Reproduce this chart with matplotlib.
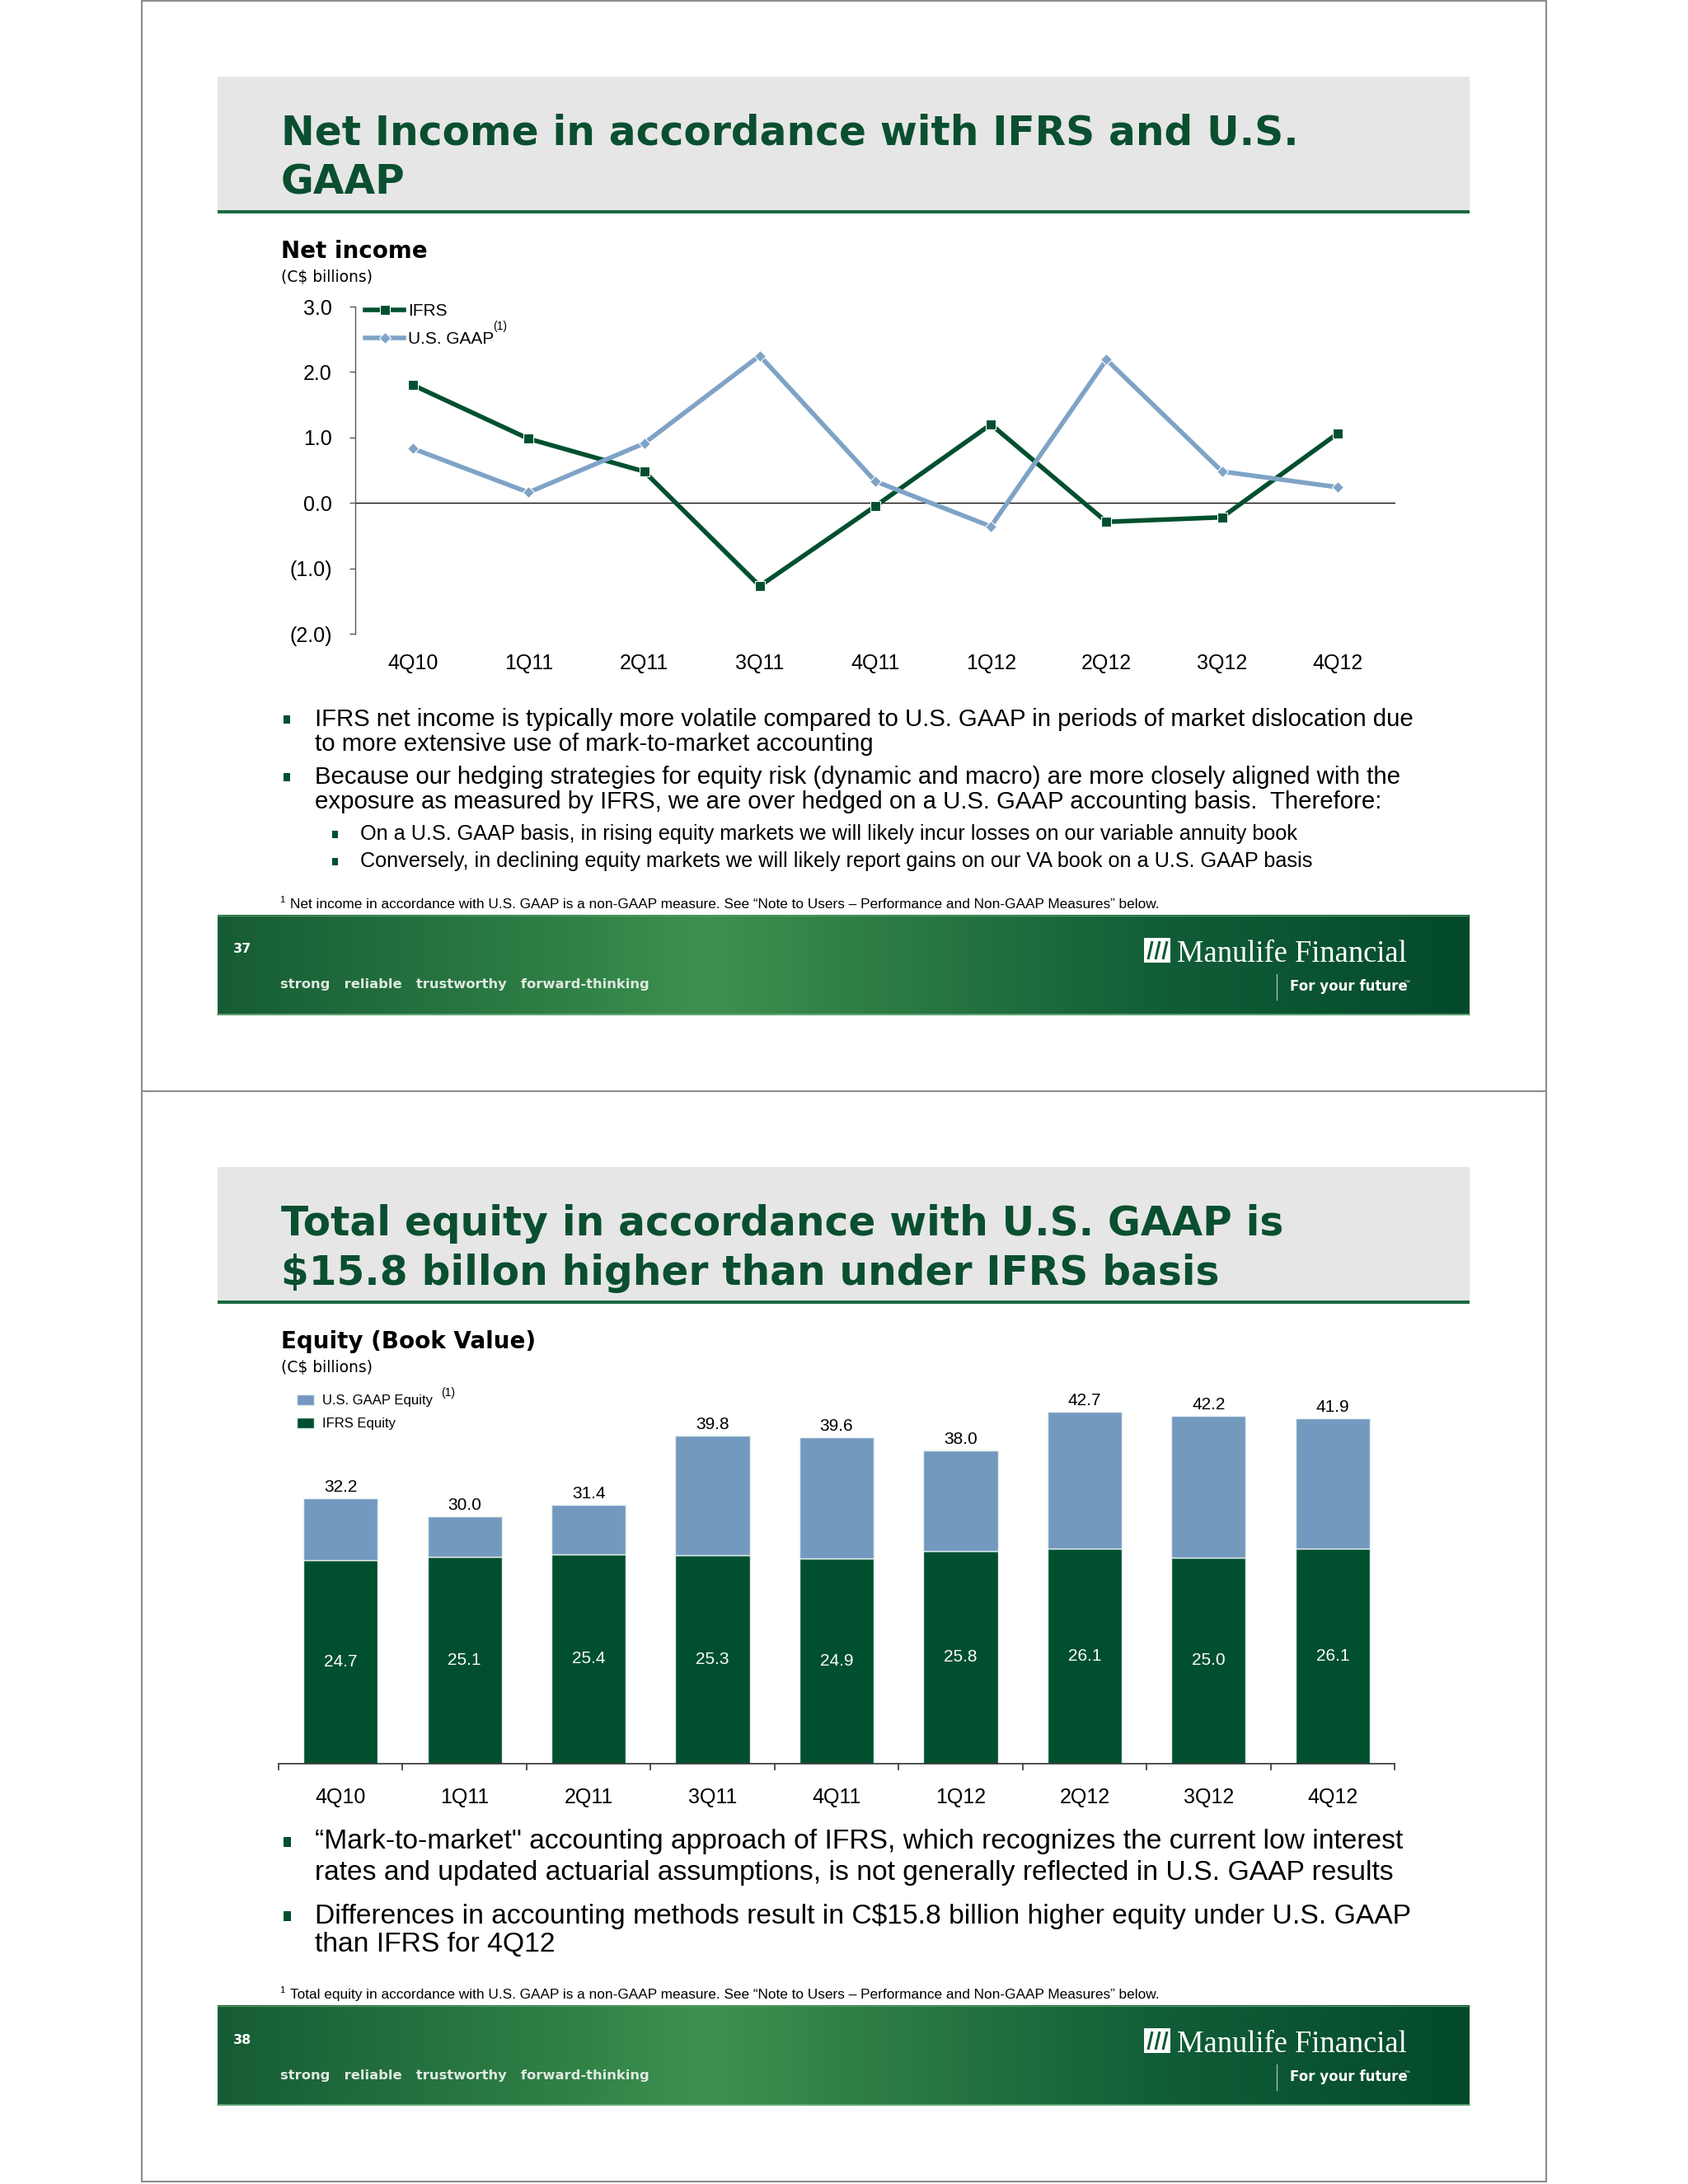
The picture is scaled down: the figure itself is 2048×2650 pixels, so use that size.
import numpy as np
import matplotlib.pyplot as plt
from matplotlib.patches import Rectangle
from matplotlib.colors import LinearSegmentedColormap
from matplotlib import font_manager

W, H = 2048, 2650

# ---- data ----
quarters = ['4Q10', '1Q11', '2Q11', '3Q11', '4Q11', '1Q12', '2Q12', '3Q12', '4Q12']
ifrs_income = [1.80, 0.98, 0.48, -1.27, -0.05, 1.20, -0.29, -0.22, 1.06]
gaap_income = [0.83, 0.16, 0.91, 2.25, 0.33, -0.36, 2.19, 0.48, 0.24]
income_ticks = [-2, -1, 0, 1, 2, 3]
income_tick_labels = ['(2.0)', '(1.0)', '0.0', '1.0', '2.0', '3.0']

ifrs_equity = [24.7, 25.1, 25.4, 25.3, 24.9, 25.8, 26.1, 25.0, 26.1]
gaap_equity = [32.2, 30.0, 31.4, 39.8, 39.6, 38.0, 42.7, 42.2, 41.9]

title_top = ['Net Income in accordance with IFRS and U.S.', 'GAAP']
title_bottom = ['Total equity in accordance with U.S. GAAP is',
                '$15.8 billon higher than under IFRS basis']

bullets_top = [
    ['IFRS net income is typically more volatile compared to U.S. GAAP in periods of market dislocation due',
     'to more extensive use of mark-to-market accounting'],
    ['Because our hedging strategies for equity risk (dynamic and macro) are more closely aligned with the',
     'exposure as measured by IFRS, we are over hedged on a U.S. GAAP accounting basis.  Therefore:'],
]
subbullets_top = [
    'On a U.S. GAAP basis, in rising equity markets we will likely incur losses on our variable annuity book',
    'Conversely, in declining equity markets we will likely report gains on our VA book on a U.S. GAAP basis',
]
bullets_bottom = [
    ['\u201cMark-to-market" accounting approach of IFRS, which recognizes the current low interest',
     'rates and updated actuarial assumptions, is not generally reflected in U.S. GAAP results'],
    ['Differences in accounting methods result in C$15.8 billion higher equity under U.S. GAAP',
     'than IFRS for 4Q12'],
]
foot_top = ('Net income in accordance with U.S. GAAP is a non-GAAP measure. '
            'See \u201cNote to Users \u2013 Performance and Non-GAAP Measures\u201d below.')
foot_bottom = ('Total equity in accordance with U.S. GAAP is a non-GAAP measure. '
               'See \u201cNote to Users \u2013 Performance and Non-GAAP Measures\u201d below.')

# ---- style ----
GREEN = '#00502f'
TITLE_GREEN = '#0a4f30'
BLUE = '#7399bf'
BLUE_LINE = '#7ea3c6'
BODY = 'Liberation Sans'
HEAD = 'DejaVu Sans'

names = {f.name for f in font_manager.fontManager.ttflist}
if 'Liberation Sans Narrow' in names:
    FN_FAMILY, FN_SIZE = 'Liberation Sans Narrow', 15
else:
    FN_FAMILY, FN_SIZE = 'Liberation Sans', 12.4

plt.rcParams['font.family'] = BODY

fig = plt.figure(figsize=(W / 100, H / 100), dpi=100, facecolor='white')

# background axes in pixel coordinates (y down)
bg = fig.add_axes([0, 0, 1, 1], zorder=0)
bg.axis('off')

footer_cmap = LinearSegmentedColormap.from_list(
    'footer', [(0.0, '#165d35'), (0.26, '#2e7e45'), (0.39, '#3d9150'),
               (0.54, '#2c7a43'), (0.75, '#125e38'), (1.0, '#034a2b')])
grad = np.linspace(0, 1, 256).reshape(1, -1)


def slide(dy, page, title_lines, foot):
    # title band
    bg.add_patch(Rectangle((264, 93 + dy), 1519, 163, color='#e6e6e6', lw=0))
    bg.add_patch(Rectangle((264, 255 + dy), 1519, 4, color='#1b6a40', lw=0))
    for i, line in enumerate(title_lines):
        bg.text(341, 176 + dy + 60 * i, line, fontsize=35, fontweight='bold',
                color=TITLE_GREEN, family=HEAD, va='baseline')
    # footnote
    bg.text(339, 1092 + dy, '1', fontsize=8, va='center')
    bg.text(352, 1098 + dy, foot, fontsize=FN_SIZE, family=FN_FAMILY, va='center')
    # footer band
    bg.imshow(grad, extent=(264, 1783, 1232 + dy, 1110 + dy), cmap=footer_cmap,
              aspect='auto', interpolation='bicubic', zorder=1)
    bg.plot([264, 1783], [1231 + dy, 1231 + dy], color='#6fae80', lw=1.2, zorder=2)
    bg.plot([264, 1783], [1111 + dy, 1111 + dy], color='#5a9c6c', lw=0.8, zorder=2)
    bg.text(283, 1152 + dy, page, fontsize=11.5, fontweight='bold', color='white',
            family=HEAD, va='center', zorder=3)
    bg.text(340, 1195 + dy, 'strong   reliable   trustworthy   forward-thinking',
            fontsize=11.8, fontweight='bold', color='#dfe9e1', family=HEAD,
            va='center', zorder=3)
    # logo
    bg.add_patch(Rectangle((1388, 1138 + dy), 32, 30, color='white', lw=0, zorder=3))
    for k in range(3):
        bg.plot([1393 + k * 9, 1398 + k * 9], [1164 + dy, 1142 + dy],
                color='#0b5a33', lw=2.2, zorder=4, solid_capstyle='butt')
    bg.text(1428, 1167 + dy, 'Manulife Financial', fontsize=26.3, color='white',
            family='Liberation Serif', va='baseline', zorder=3)
    bg.plot([1549, 1549], [1182 + dy, 1213 + dy], color='#9cc1a6', lw=1, zorder=3)
    bg.text(1565, 1202 + dy, 'For your future', fontsize=12, fontweight='bold',
            color='white', family=HEAD, va='baseline', zorder=3)
    bg.text(1703, 1194 + dy, '\u2122', fontsize=5, color='white', va='baseline', zorder=3)


def bullet(x, y, w=8, h=10):
    bg.add_patch(Rectangle((x - w / 2, y - h / 2), w, h, color=GREEN, lw=0))


# page frames
bg.add_patch(Rectangle((172, 1), 1704, 2646, fill=False, ec='#8c8c8c', lw=1.5))
bg.plot([172, 1876], [1324, 1324], color='#8c8c8c', lw=1.5)

slide(0, '37', title_top, foot_top)
slide(1323, '38', title_bottom, foot_bottom)

# ---- slide 37 texts ----
bg.text(341, 313, 'Net income', fontsize=20, fontweight='bold', family=HEAD, va='baseline')
bg.text(341, 342, '(C$ billions)', fontsize=13.5, family=HEAD, va='baseline')

ys = [(873, 903), (943, 973)]
for lines, (y1, y2) in zip(bullets_top, ys):
    bullet(348, y1)
    bg.text(382, y1, lines[0], fontsize=21.2, va='center')
    bg.text(382, y2, lines[1], fontsize=21.2, va='center')
for line, y in zip(subbullets_top, [1012, 1045]):
    bullet(406, y, 7, 9)
    bg.text(437, y, line, fontsize=18.2, va='center')

# ---- slide 38 texts ----
bg.text(341, 1636, 'Equity (Book Value)', fontsize=20, fontweight='bold', family=HEAD, va='baseline')
bg.text(341, 1665, '(C$ billions)', fontsize=13.5, family=HEAD, va='baseline')

ys = [(2235, 2272), (2325, 2360)]
for lines, (y1, y2) in zip(bullets_bottom, ys):
    bullet(348, y1, 9, 12)
    bg.text(382, y1, lines[0], fontsize=24.2, va='center')
    bg.text(382, y2, lines[1], fontsize=24.2, va='center')

bg.set_xlim(0, W)
bg.set_ylim(H, 0)

# ---- net income line chart ----
x = np.arange(len(quarters))
ax1 = fig.add_axes([431 / W, 1 - 769 / H, 1262 / W, 397 / H], zorder=1)
ax1.patch.set_alpha(0)
ax1.plot(x, ifrs_income, color=GREEN, lw=4, marker='s', ms=8.5, mec='white',
         mew=0.8, label='IFRS', zorder=3)
ax1.plot(x, gaap_income, color=BLUE_LINE, lw=4, marker='D', ms=7, mec='white',
         mew=0.8, label='U.S. GAAP', zorder=4)
ax1.axhline(0, color='black', lw=0.9, zorder=2)
ax1.set_xlim(-0.5, 8.5)
ax1.set_ylim(-2, 3)
for s in ['top', 'right', 'bottom']:
    ax1.spines[s].set_visible(False)
ax1.spines['left'].set_color('#555555')
ax1.spines['left'].set_linewidth(1)
ax1.set_yticks(income_ticks, income_tick_labels)
ax1.set_xticks(x, quarters)
ax1.tick_params(axis='y', length=5, width=1, color='#555555', pad=15.5, labelsize=18)
ax1.tick_params(axis='x', length=0, pad=17.5, labelsize=18)
ax1.legend(loc='upper left', bbox_to_anchor=(443 / W, 1 - 368 / H),
           bbox_transform=fig.transFigure, frameon=False, fontsize=15,
           handlelength=2.26, handletextpad=0.25, labelspacing=0.72,
           borderpad=0, borderaxespad=0, numpoints=1)
fig.text(598 / W, 1 - 396 / H, '(1)', fontsize=10, va='center')

# ---- equity stacked bar chart ----
ax2 = fig.add_axes([338 / W, 1 - 2140 / H, 1354 / W, 500 / H], zorder=1)
ax2.patch.set_alpha(0)
gap = [g - i for g, i in zip(gaap_equity, ifrs_equity)]
b1 = ax2.bar(x, ifrs_equity, 0.6, color=GREEN, edgecolor='#e4eeee', linewidth=1)
b2 = ax2.bar(x, gap, 0.6, bottom=ifrs_equity, color=BLUE, edgecolor='#e4eeee', linewidth=1)
for i in x:
    ax2.annotate(f'{gaap_equity[i]:.1f}', (i, gaap_equity[i]), xytext=(0, 3),
                 textcoords='offset points', ha='center', va='bottom', fontsize=15)
    ax2.text(i, ifrs_equity[i] / 2, f'{ifrs_equity[i]:.1f}', color='white',
             ha='center', va='center', fontsize=15)
ax2.set_xlim(-0.5, 8.5)
ax2.set_ylim(0, 50)
for s in ['top', 'right', 'left']:
    ax2.spines[s].set_visible(False)
ax2.spines['bottom'].set_color('#333333')
ax2.spines['bottom'].set_linewidth(1.2)
ax2.set_yticks([])
ax2.set_xticks(x, quarters)
ax2.set_xticks(np.arange(-0.5, 9, 1), minor=True)
ax2.tick_params(axis='x', which='major', length=0, pad=21, labelsize=18)
ax2.tick_params(axis='x', which='minor', length=6, width=1.2, color='#333333')
ax2.legend([b2, b1], ['U.S. GAAP Equity', 'IFRS Equity'], loc='upper left',
           bbox_to_anchor=(360 / W, 1 - 1692 / H), bbox_transform=fig.transFigure,
           frameon=False, fontsize=12, handlelength=1.26, handleheight=0.84,
           handletextpad=0.6, labelspacing=0.75, borderpad=0, borderaxespad=0)
fig.text(535 / W, 1 - 1690 / H, '(1)', fontsize=10, va='center')

fig.savefig('out.png', dpi=100)
